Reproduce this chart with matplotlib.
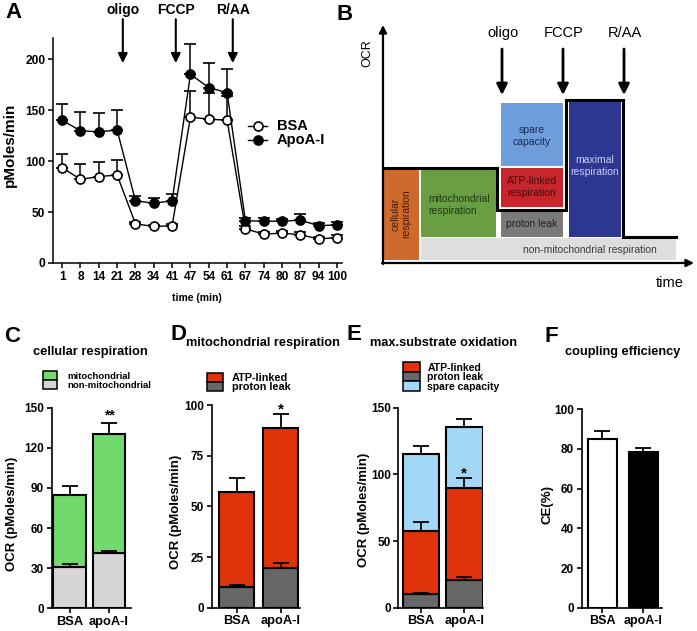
import matplotlib
matplotlib.use('Agg')
import matplotlib.pyplot as plt
from matplotlib.patches import Rectangle
from matplotlib.lines import Line2D
import numpy as np

plt.rcParams['font.family'] = ['Liberation Sans', 'DejaVu Sans']
plt.rcParams['font.weight'] = 'bold'
plt.rcParams['axes.labelweight'] = 'bold'

# ---------------- data ----------------
time_labels = ['1', '8', '14', '21', '28', '34', '41', '47', '54', '61',
               '67', '74', '80', '87', '94', '100']
bsa_ocr = [93.5, 82, 84.7, 86.3, 38.4, 35.8, 36.5, 143, 141, 140,
           33.5, 28.3, 29.3, 27.7, 23.5, 25]
bsa_err = [13, 14.7, 14, 14.7, 2, 1.5, 2, 26, 26, 24,
           2.5, 2.5, 2.5, 2.5, 2, 2]
apoa_ocr = [140, 129.6, 128.7, 130.3, 61, 58.6, 61, 185, 172, 167,
            41.4, 41, 41, 42, 36.5, 37.5]
apoa_err = [16, 18.4, 17.9, 19.5, 5, 5.4, 7, 30, 24, 23,
            2.6, 3, 2.5, 6, 3.2, 2.5]
injections = ['oligo', 'FCCP', 'R/AA']
injection_idx = [3.31, 6.2, 9.31]

groups = ['BSA', 'apoA-I']
# C: cellular respiration
c_nonmito = [30.6, 41.1]
c_nonmito_err = [2.3, 1.5]
c_mito = [54.1, 88.9]
c_total_err = [6.7, 8.8]
# D: mitochondrial respiration
d_leak = [10.0, 19.4]
d_leak_err = [1.2, 2.5]
d_atp = [47.2, 69.1]
d_total_err = [6.6, 6.9]
# E: max substrate oxidation
e_leak = [10.0, 20.75]
e_leak_err = [1.25, 2.5]
e_atp = [47.5, 69.25]
e_atp_err = [6.5, 7.5]
e_spare = [57.5, 45.75]
e_total_err = [6.25, 5.75]
# F: coupling efficiency
f_ce = [84.9, 78.3]
f_ce_err = [4.3, 2.4]

# ---------------- figure ----------------
W, H = 697, 631
fig = plt.figure(figsize=(W / 100, H / 100), dpi=100)


def rect(l, t, r, b):
    return [l / W, 1 - b / H, (r - l) / W, (b - t) / H]


def ftext(x, y, s, **kw):
    return fig.text(x / W, 1 - y / H, s, **kw)


def style_axes(ax, lw=1.2):
    for s in ['top', 'right']:
        ax.spines[s].set_visible(False)
    for s in ['left', 'bottom']:
        ax.spines[s].set_linewidth(lw)
    ax.tick_params(direction='out', length=3.5, width=lw, labelsize=8.5, pad=2)
    for lab in ax.get_xticklabels() + ax.get_yticklabels():
        lab.set_fontweight('bold')


# ---------------- Panel A ----------------
axA = fig.add_axes(rect(53, 38, 342, 263))
x = np.arange(len(time_labels))
axA.errorbar(x, bsa_ocr, yerr=[np.zeros(len(x)), bsa_err], fmt='-o', color='k',
             mfc='white', mec='k', ms=6.5, mew=1.2, lw=1.0, capsize=4,
             elinewidth=1.1, capthick=1.1, zorder=3)
axA.errorbar(x, apoa_ocr, yerr=[np.zeros(len(x)), apoa_err], fmt='-o', color='k',
             mfc='black', mec='k', ms=6.5, mew=1.2, lw=1.0, capsize=4,
             elinewidth=1.1, capthick=1.1, zorder=4)
axA.set_xlim(-0.5, 15.27)
axA.set_ylim(0, 220.6)
axA.set_yticks([0, 50, 100, 150, 200])
axA.set_xticks(x)
axA.set_xticklabels(time_labels)
style_axes(axA, 1.1)
axA.tick_params(axis='both', labelsize=8.6)
for lab in axA.get_xticklabels() + axA.get_yticklabels():
    lab.set_fontweight('bold')
for name, xi in zip(injections, injection_idx):
    axA.annotate('', xy=(xi, 196), xytext=(xi, 239), annotation_clip=False,
                 arrowprops=dict(arrowstyle='-|>', lw=1.5, color='k',
                                 mutation_scale=14, shrinkA=0, shrinkB=0))
    axA.text(xi, 248, name, ha='center', va='center', fontsize=10,
             fontweight='bold', clip_on=False)
ftext(10, 145, 'pMoles/min', rotation=90, ha='center', va='center',
      fontsize=11, fontweight='bold')
ftext(197, 298, 'time (min)', ha='center', va='center', fontsize=7.5,
      fontweight='bold')
# legend A
for lab, yy, mfc in [('BSA', 126, 'white'), ('ApoA-I', 140, 'black')]:
    fig.add_artist(Line2D([248 / W, 267 / W], [1 - yy / H] * 2, color='k', lw=1,
                          transform=fig.transFigure))
    fig.add_artist(Line2D([257.5 / W], [1 - yy / H], marker='o', ms=6.5, mfc=mfc,
                          mec='k', mew=1.2, transform=fig.transFigure))
    ftext(277, yy, lab, fontsize=10.5, va='center', ha='left', fontweight='bold')

# ---------------- Panel B (schematic) ----------------
axB = fig.add_axes(rect(360, 0, 697, 310))
axB.set_xlim(-23, 314)
axB.set_ylim(-47, 263)
axB.axis('off')
schem_boxes = [
    # text, x0, x1, y0, y1, face, textcolor, rotation, text_x, text_y, ha
    ('cellular\nrespiration', 0.5, 36, 3, 95, '#cf6a2c', '#4a1a05', 90, 18, 49, 'center'),
    ('mitochondrial\nrespiration', 38, 113, 26, 93, '#6a9e43', '#1f3a12', 0, 45, 58, 'left'),
    ('non-mitochondrial respiration', 38, 293, 3, 25, '#dedede', '#3a3a3a', 0, 207, 13, 'center'),
    ('spare\ncapacity', 118, 180, 97, 160, '#6e9fdc', '#1a2a55', 0, 149, 127, 'center'),
    ('ATP-linked\nrespiration', 118, 180, 56, 95, '#c8262c', '#4a0808', 0, 149, 76, 'center'),
    ('proton leak', 118, 180, 26, 51, '#7a7a7a', '#222222', 0, 149, 39, 'center'),
    ('maximal\nrespiration', 186, 238, 26, 161, '#2c3791', '#c8d0f2', 0, 212, 97, 'center'),
]
for (t, x0, x1, y0, y1, fc, tc, rot, tx, ty, ha) in schem_boxes:
    axB.add_patch(Rectangle((x0, y0), x1 - x0, y1 - y0, fc=fc, ec='none'))
    axB.text(tx, ty, t, color=tc, rotation=rot, ha=ha, va='center',
             fontsize=7.5, fontweight='normal', linespacing=1.15)
trace_x = [0, 114, 114, 183, 183, 240, 240, 293]
trace_y = [95, 95, 53, 53, 163, 163, 26, 26]
axB.plot(trace_x, trace_y, color='k', lw=2.2, solid_joinstyle='miter')
axB.annotate('', xy=(0, 238), xytext=(0, -1),
             arrowprops=dict(arrowstyle='-|>', lw=1.6, color='k', mutation_scale=11,
                             shrinkA=0, shrinkB=0))
axB.annotate('', xy=(311, 0), xytext=(-1, 0),
             arrowprops=dict(arrowstyle='-|>', lw=1.6, color='k', mutation_scale=11,
                             shrinkA=0, shrinkB=0))
axB.text(-16, 210, 'OCR', rotation=90, ha='center', va='center', fontsize=9,
         fontweight='normal')
axB.text(287, -20, 'time', ha='center', va='center', fontsize=10.5,
         fontweight='normal')
for name, sx in zip(injections, [119, 180, 241]):
    axB.annotate('', xy=(sx, 168), xytext=(sx, 214),
                 arrowprops=dict(arrowstyle='-|>', lw=2, color='k', mutation_scale=16,
                                 shrinkA=0, shrinkB=0))
    axB.text(sx + 1, 230, name, ha='center', va='center', fontsize=10.5,
             fontweight='normal')

ftext(5, 18, 'A', fontsize=16, fontweight='bold', va='baseline')
ftext(337, 20, 'B', fontsize=16, fontweight='bold', va='baseline')

# ---------------- bar panels ----------------
EC = 'k'
BLW = 1.5
ERR = dict(fmt='none', ecolor='k', capsize=6, elinewidth=1.3, capthick=1.3, zorder=5)


def bar_legend(x0, w, top, h, text_x, items, fs):
    for i, (lab, col) in enumerate(items):
        y = top + i * h
        fig.add_artist(Rectangle((x0 / W, 1 - (y + h) / H), w / W, h / H,
                                 transform=fig.transFigure, fc=col, ec='k', lw=1.1))
        ftext(text_x, y + h - 1.0, lab, fontsize=fs, va='baseline', ha='left',
              fontweight='bold')


GREEN = '#72d96c'
LGRAY = '#d6d6d6'
RED = '#e0330c'
DGRAY = '#676767'
LBLUE = '#a2d8f6'
xb = np.arange(len(groups))
zeros2 = np.zeros(2)

# C
axC = fig.add_axes(rect(51.7, 407.7, 131, 608.3))
wC = 0.83
axC.bar(xb, c_nonmito, width=wC, color=LGRAY, edgecolor=EC, lw=BLW)
axC.bar(xb, c_mito, width=wC, bottom=c_nonmito, color=GREEN, edgecolor=EC, lw=BLW)
axC.errorbar(xb, c_nonmito, yerr=[zeros2, c_nonmito_err], **ERR)
axC.errorbar(xb, np.add(c_nonmito, c_mito), yerr=[zeros2, c_total_err], **ERR)
axC.set_xlim(-0.458, 1.56)
axC.set_ylim(0, 150)
axC.set_yticks([0, 30, 60, 90, 120, 150])
axC.set_xticks(xb)
axC.set_xticklabels(groups)
style_axes(axC)
axC.tick_params(axis='x', labelsize=9.3)
axC.text(1, 144.5, '**', ha='center', va='center', fontsize=10, fontweight='bold')
ftext(12, 514, 'OCR (pMoles/min)', rotation=90, ha='center', va='center',
      fontsize=9.5, fontweight='bold')
ftext(90, 352, 'cellular respiration', ha='center', va='center', fontsize=9.3,
      fontweight='bold')
bar_legend(43, 14, 371.5, 8.8, 67, [('mitochondrial', GREEN), ('non-mitochondrial', LGRAY)], 6.8)
ftext(4, 342, 'C', fontsize=16, fontweight='bold', va='baseline')

# D
axD = fig.add_axes(rect(211.7, 405, 300, 607.7))
wD = 0.79
axD.bar(xb, d_leak, width=wD, color=DGRAY, edgecolor=EC, lw=BLW)
axD.bar(xb, d_atp, width=wD, bottom=d_leak, color=RED, edgecolor=EC, lw=BLW)
axD.errorbar(xb, d_leak, yerr=[zeros2, d_leak_err], **ERR)
axD.errorbar(xb, np.add(d_leak, d_atp), yerr=[zeros2, d_total_err], **ERR)
axD.set_xlim(-0.56, 1.43)
axD.set_ylim(0, 100)
axD.set_yticks([0, 25, 50, 75, 100])
axD.set_xticks(xb)
axD.set_xticklabels(groups)
style_axes(axD)
axD.tick_params(axis='x', labelsize=9.3)
axD.text(1, 98, '*', ha='center', va='center', fontsize=11, fontweight='bold')
ftext(176, 512, 'OCR (pMoles/min)', rotation=90, ha='center', va='center',
      fontsize=9.5, fontweight='bold')
ftext(263, 343, 'mitochondrial respiration', ha='center', va='center', fontsize=9.2,
      fontweight='bold')
bar_legend(206.7, 16.3, 372.5, 9.4, 231.7, [('ATP-linked', RED), ('proton leak', DGRAY)], 7.8)
ftext(170, 340, 'D', fontsize=16, fontweight='bold', va='baseline')

# E
axE = fig.add_axes(rect(398.3, 407.7, 483, 607.7))
wE = 0.85
axE.bar(xb, e_leak, width=wE, color=DGRAY, edgecolor=EC, lw=BLW)
axE.bar(xb, e_atp, width=wE, bottom=e_leak, color=RED, edgecolor=EC, lw=BLW)
e_mid = np.add(e_leak, e_atp)
axE.bar(xb, e_spare, width=wE, bottom=e_mid, color=LBLUE, edgecolor=EC, lw=BLW)
axE.errorbar(xb, e_leak, yerr=[zeros2, e_leak_err], **ERR)
axE.errorbar(xb, e_mid, yerr=[zeros2, e_atp_err], **ERR)
axE.errorbar(xb, e_mid + np.array(e_spare), yerr=[zeros2, e_total_err], **ERR)
axE.set_xlim(-0.524, 1.43)
axE.set_ylim(0, 150)
axE.set_yticks([0, 50, 100, 150])
axE.set_xticks(xb)
axE.set_xticklabels(groups)
style_axes(axE)
axE.tick_params(axis='x', labelsize=9.3)
axE.text(1, 100.5, '*', ha='center', va='center', fontsize=11, fontweight='bold')
ftext(364, 510, 'OCR (pMoles/min)', rotation=90, ha='center', va='center',
      fontsize=9.5, fontweight='bold')
ftext(443, 343, 'max.substrate oxidation', ha='center', va='center', fontsize=9.2,
      fontweight='bold')
bar_legend(403, 17, 362, 9.6, 427.3,
           [('ATP-linked', RED), ('proton leak', DGRAY), ('spare capacity', LBLUE)], 7.5)
ftext(347, 340, 'E', fontsize=16, fontweight='bold', va='baseline')

# F
axF = fig.add_axes(rect(581.7, 409.3, 661.7, 607.7))
wF = 0.705
axF.bar(xb, f_ce, width=wF, color=['white', 'black'], edgecolor=EC, lw=BLW)
axF.errorbar(xb, f_ce, yerr=[zeros2, f_ce_err], **ERR)
axF.set_xlim(-0.5, 1.45)
axF.set_ylim(0, 100)
axF.set_yticks([0, 20, 40, 60, 80, 100])
axF.set_xticks(xb)
axF.set_xticklabels(groups)
style_axes(axF)
axF.tick_params(axis='x', labelsize=9.0)
ftext(548, 505, 'CE(%)', rotation=90, ha='center', va='center',
      fontsize=9.5, fontweight='bold')
ftext(623, 352, 'coupling efficiency', ha='center', va='center', fontsize=9.2,
      fontweight='bold')
ftext(545, 342, 'F', fontsize=16, fontweight='bold', va='baseline')

fig.savefig('out.png', dpi=100)
